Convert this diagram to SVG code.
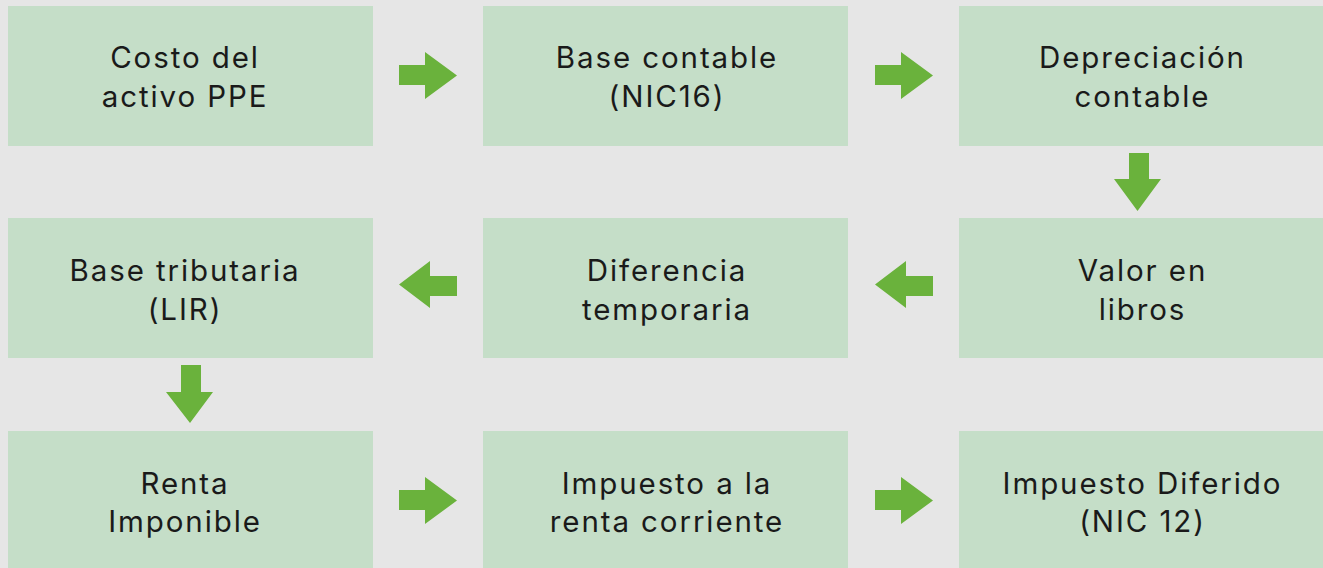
<svg xmlns="http://www.w3.org/2000/svg" width="1323" height="568" viewBox="0 0 1323 568">
<style>
.box{fill:#c5dec8}
.arr{fill:#6ab23c}
text{font-family:Inter,"Open Sans","Liberation Sans",sans-serif;font-size:29.5px;letter-spacing:1.9px;fill:#1a1a1a;text-anchor:middle}
</style>
<rect width="1323" height="568" fill="#e6e6e6"/>
<g id="n1"><rect class="box" x="8" y="6" width="365" height="140"/><text x="185" y="68">Costo del</text><text x="185" y="107">activo PPE</text></g>
<g id="n2"><rect class="box" x="483" y="6" width="365" height="140"/><text x="667" y="68">Base contable</text><text x="667" y="107">(NIC16)</text></g>
<g id="n3"><rect class="box" x="959" y="6" width="364" height="140"/><text x="1142.5" y="68">Depreciación</text><text x="1142.5" y="107">contable</text></g>
<g id="n4"><rect class="box" x="959" y="218" width="364" height="140"/><text x="1142.5" y="281">Valor en</text><text x="1142.5" y="320">libros</text></g>
<g id="n5"><rect class="box" x="483" y="218" width="365" height="140"/><text x="667" y="281">Diferencia</text><text x="667" y="320">temporaria</text></g>
<g id="n6"><rect class="box" x="8" y="218" width="365" height="140"/><text x="185" y="281">Base tributaria</text><text x="185" y="320">(LIR)</text></g>
<g id="n7"><rect class="box" x="8" y="431" width="365" height="137"/><text x="185" y="494">Renta</text><text x="185" y="532">Imponible</text></g>
<g id="n8"><rect class="box" x="483" y="431" width="365" height="137"/><text x="667" y="494">Impuesto a la</text><text x="667" y="532">renta corriente</text></g>
<g id="n9"><rect class="box" x="959" y="431" width="364" height="137"/><text x="1142.5" y="494">Impuesto Diferido</text><text x="1142.5" y="532">(NIC 12)</text></g>
<g id="connectors">
<polygon class="arr" points="399,65 425,65 425,52 457,75.5 425,99 425,85 399,85"/>
<polygon class="arr" points="875,65 901,65 901,52 933,75.5 901,99 901,85 875,85"/>
<polygon class="arr" points="1129,153 1149,153 1149,179 1161,179 1137.5,211 1114,179 1129,179"/>
<polygon class="arr" points="457,276 430,276 430,261 399,284.5 430,308 430,296 457,296"/>
<polygon class="arr" points="933,276 906,276 906,261 875,284.5 906,308 906,296 933,296"/>
<polygon class="arr" points="181,365 201,365 201,392 213,392 190,423 166,392 181,392"/>
<polygon class="arr" points="399,490 425,490 425,477 457,500.5 425,524 425,510 399,510"/>
<polygon class="arr" points="875,490 901,490 901,477 933,500.5 901,524 901,510 875,510"/>
</g>
</svg>
